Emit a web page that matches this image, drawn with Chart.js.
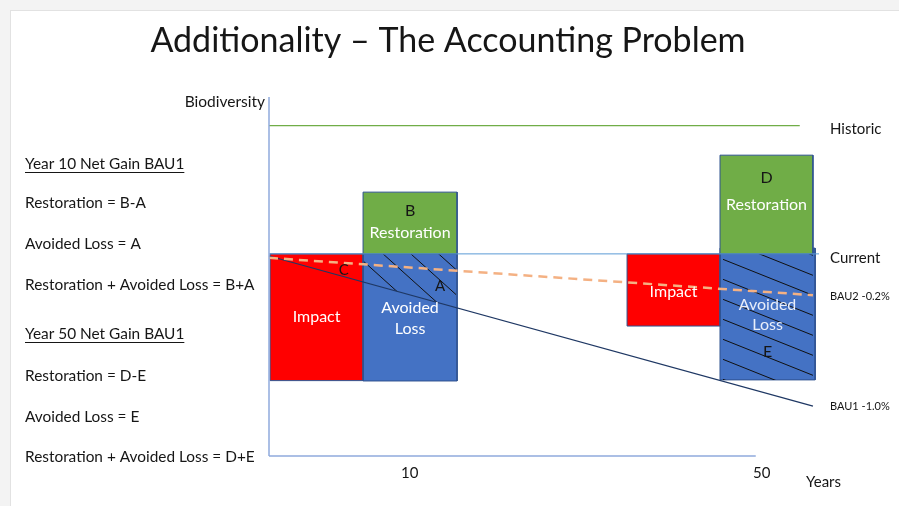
<!DOCTYPE html>
<html>
<head>
<meta charset="utf-8">
<script src="https://cdn.jsdelivr.net/npm/chart.js@4.4.1/dist/chart.umd.min.js"></script>
<style>
  html, body { margin: 0; padding: 0; background: #fff; }
  #wrap { position: relative; width: 899px; height: 506px; }
</style>
</head>
<body>
<div id="wrap"><canvas id="chart"></canvas></div>
<script>
// x axis: years (schematic, not to scale)
const yearTicks = [25.6, 89.6];
const yearLabels = ['10', '50'];

// reference levels + business-as-usual trajectories
const historic = [{x: 0, y: 92}, {x: 96.5, y: 92}];
const current = [{x: 0, y: 56.3}, {x: 100, y: 56.3}];
const bau1 = [{x: 0, y: 55.7}, {x: 98.9, y: 13.9}];
const bau2 = [{x: 0, y: 55.2}, {x: 98.9, y: 44.8}];
const xAxisLine = [{x: 0, y: 0}, {x: 88.5, y: 0}];
const yAxisLine = [{x: 0, y: 0}, {x: 0, y: 100}];

// boxes: [x start, x end, y bottom, y top]
const impact10 = [0.2, 17.1, 21.0, 56.3];
const avoided10 = [17.1, 34.2, 20.9, 56.3];
const restoration10 = [17.1, 34.2, 56.3, 73.5];
const impact50 = [65.1, 82.0, 36.2, 56.3];
const avoided50 = [82.0, 99.3, 21.2, 57.9];
const restoration50 = [82.0, 98.9, 56.3, 83.8];

// loose letters on the diagram
const markers = [
  {text: 'C', x: 13.6, y: 51.8},
  {text: 'A', x: 31.1, y: 47.4}
];

const notes = [
  {text: 'Year 10 Net Gain BAU1', underline: true},
  {text: 'Restoration = B-A'},
  {text: 'Avoided Loss = A'},
  {text: 'Restoration + Avoided Loss = B+A'},
  {text: 'Year 50 Net Gain BAU1', underline: true},
  {text: 'Restoration = D-E'},
  {text: 'Avoided Loss = E'},
  {text: 'Restoration + Avoided Loss = D+E'}
];
const noteRows = [164, 203, 244, 285, 334, 376, 417, 457];

const INK = '#161616';
const FONT = 'Lato, "Open Sans", sans-serif';

function rectPoints(b) {
  return [
    {x: b[0], y: b[2]}, {x: b[0], y: b[3]},
    {x: b[1], y: b[3]}, {x: b[1], y: b[2]}, {x: b[0], y: b[2]}
  ];
}

function boxSet(b, color, order, extra) {
  return Object.assign({
    data: rectPoints(b),
    box: b,
    showLine: true,
    fill: 'shape',
    backgroundColor: color,
    borderColor: '#2f528f',
    borderWidth: 1,
    borderJoinStyle: 'miter',
    pointRadius: 0,
    order: order,
    clip: false
  }, extra || {});
}

function lineSet(data, color, width, order, extra) {
  return Object.assign({
    data: data,
    showLine: true,
    fill: false,
    borderColor: color,
    borderWidth: width,
    pointRadius: 0,
    order: order,
    clip: false
  }, extra || {});
}

const seriesLabels = [
  {text: 'Historic', line: historic, dy: 3, size: 15},
  {text: 'Current', line: current, dy: 4, size: 15},
  {text: 'BAU2 -0.2%', line: bau2, dy: 1, size: 11},
  {text: 'BAU1 -1.0%', line: bau1, dy: 0, size: 11}
];

// hatching inside the avoided-loss boxes, kept above the BAU1 line
function drawHatch(chart, ds) {
  const ctx = chart.ctx;
  const sx = chart.scales.x, sy = chart.scales.y;
  const b = ds.box, h = ds.hatch;
  const l = sx.getPixelForValue(b[0]);
  const r = sx.getPixelForValue(b[1]);
  const t = sy.getPixelForValue(b[3]);
  const bt = sy.getPixelForValue(b[2]);
  ctx.save();
  ctx.beginPath();
  ctx.rect(l + h.inset, t, r - l - h.inset - 1, bt - t);
  ctx.clip();
  ctx.beginPath();
  ctx.moveTo(sx.getPixelForValue(bau1[0].x), sy.getPixelForValue(bau1[0].y));
  ctx.lineTo(sx.getPixelForValue(bau1[1].x), sy.getPixelForValue(bau1[1].y));
  ctx.lineTo(sx.getPixelForValue(bau1[1].x), chart.chartArea.top);
  ctx.lineTo(sx.getPixelForValue(bau1[0].x), chart.chartArea.top);
  ctx.closePath();
  ctx.clip();
  ctx.strokeStyle = '#111';
  ctx.lineWidth = 1;
  ctx.beginPath();
  for (let k = -12; k < 12; k++) {
    const y0 = t + h.offset + k * h.spacing;
    ctx.moveTo(l, y0);
    ctx.lineTo(r + 2, y0 + h.slope * (r + 2 - l));
  }
  ctx.stroke();
  ctx.restore();
}

const diagramPlugin = {
  id: 'diagram',
  beforeDraw(chart) {
    const ctx = chart.ctx;
    ctx.save();
    ctx.fillStyle = '#f3f3f3';
    ctx.fillRect(0, 0, chart.width, chart.height);
    ctx.fillStyle = '#e2e2e2';
    ctx.fillRect(10, 10, chart.width - 10, chart.height - 10);
    ctx.fillStyle = '#ffffff';
    ctx.fillRect(11, 11, chart.width - 11, chart.height - 11);
    ctx.restore();
  },
  afterDatasetDraw(chart, args) {
    const ds = chart.data.datasets[args.index];
    if (ds.hatch) drawHatch(chart, ds);
  },
  afterDatasetsDraw(chart) {
    const ctx = chart.ctx;
    const sx = chart.scales.x, sy = chart.scales.y;
    ctx.save();
    ctx.textAlign = 'center';
    ctx.textBaseline = 'middle';

    // text inside boxes
    chart.data.datasets.forEach(ds => {
      if (!ds.labels) return;
      const cx = (sx.getPixelForValue(ds.box[0]) + sx.getPixelForValue(ds.box[1])) / 2;
      const cy = (sy.getPixelForValue(ds.box[2]) + sy.getPixelForValue(ds.box[3])) / 2;
      ds.labels.forEach(lb => {
        ctx.font = '16px ' + FONT;
        ctx.fillStyle = lb.color;
        ctx.fillText(lb.text, cx, cy + lb.dy);
      });
    });

    ctx.font = '15px ' + FONT;
    ctx.fillStyle = INK;
    markers.forEach(m => {
      ctx.fillText(m.text, sx.getPixelForValue(m.x), sy.getPixelForValue(m.y));
    });

    // labels at the right end of each level / trajectory
    ctx.textAlign = 'left';
    seriesLabels.forEach(s => {
      const end = s.line[s.line.length - 1];
      ctx.font = s.size + 'px ' + FONT;
      ctx.fillStyle = INK;
      ctx.fillText(s.text, chart.chartArea.right + 11, sy.getPixelForValue(end.y) + s.dy);
    });
    ctx.restore();
  },
  afterDraw(chart) {
    const ctx = chart.ctx;
    const area = chart.chartArea;
    ctx.save();
    ctx.fillStyle = INK;
    ctx.textBaseline = 'middle';

    ctx.textAlign = 'center';
    ctx.font = '34px ' + FONT;
    ctx.fillText('Additionality \u2013 The Accounting Problem', 448, 41);

    ctx.textAlign = 'right';
    ctx.font = '15.5px ' + FONT;
    ctx.fillText('Biodiversity', area.left - 4, area.top + 5);

    ctx.textAlign = 'left';
    ctx.font = '15px ' + FONT;
    ctx.fillText('Years', 806, 482);

    ctx.font = '15.4px ' + FONT;
    notes.forEach((n, i) => {
      ctx.fillText(n.text, 25, noteRows[i]);
      if (n.underline) {
        const w = ctx.measureText(n.text).width;
        ctx.fillRect(25, noteRows[i] + 8, w, 1);
      }
    });
    ctx.restore();
  }
};

new Chart(document.getElementById('chart'), {
  type: 'scatter',
  data: {
    datasets: [
      lineSet(yAxisLine, '#8faadc', 1.5, 0),
      lineSet(xAxisLine, '#8faadc', 1.5, 0),
      lineSet(current, '#5b9bd5', 1, 1),
      lineSet(bau2, '#f4b183', 2.5, 1, {borderDash: [9, 6]}),
      lineSet(bau1, '#1f3864', 1.2, 2),
      lineSet(historic, '#70ad47', 1.3, 2),
      boxSet(restoration10, '#70ad47', 5, {labels: [
        {text: 'B', color: INK, dy: -12},
        {text: 'Restoration', color: '#ffffff', dy: 10}
      ]}),
      boxSet(restoration50, '#70ad47', 5, {labels: [
        {text: 'D', color: INK, dy: -27},
        {text: 'Restoration', color: '#ffffff', dy: 0}
      ]}),
      boxSet(impact10, '#ff0000', 6, {labels: [
        {text: 'Impact', color: '#ffffff', dy: 0}
      ]}),
      boxSet(impact50, '#ff0000', 6, {labels: [
        {text: 'Impact', color: '#ffffff', dy: 2}
      ]}),
      boxSet(avoided10, '#4472c4', 6, {
        hatch: {slope: 0.9, spacing: 25, offset: 7, inset: 0},
        labels: [
          {text: 'Avoided', color: '#ffffff', dy: -10},
          {text: 'Loss', color: '#ffffff', dy: 11}
        ]
      }),
      boxSet(avoided50, '#4472c4', 6, {
        hatch: {slope: 0.4, spacing: 20, offset: 10, inset: 3},
        labels: [
          {text: 'Avoided', color: '#e8eefa', dy: -9},
          {text: 'Loss', color: '#e8eefa', dy: 11},
          {text: 'E', color: INK, dy: 38}
        ]
      })
    ]
  },
  options: {
    responsive: true,
    maintainAspectRatio: false,
    animation: false,
    layout: {padding: {left: 269, right: 80, top: 97, bottom: 0}},
    plugins: {legend: {display: false}, tooltip: {enabled: false}},
    scales: {
      x: {
        type: 'linear',
        min: 0,
        max: 100,
        grid: {display: false, drawTicks: false},
        border: {display: false},
        afterBuildTicks: scale => { scale.ticks = yearTicks.map(v => ({value: v})); },
        afterFit: scale => { scale.height = 50; },
        ticks: {
          autoSkip: false,
          maxRotation: 0,
          padding: 8,
          color: INK,
          font: {family: FONT, size: 15},
          callback: (value, index) => yearLabels[index]
        }
      },
      y: {
        type: 'linear',
        min: 0,
        max: 100,
        display: false
      }
    }
  },
  plugins: [diagramPlugin]
});
</script>
</body>
</html>
